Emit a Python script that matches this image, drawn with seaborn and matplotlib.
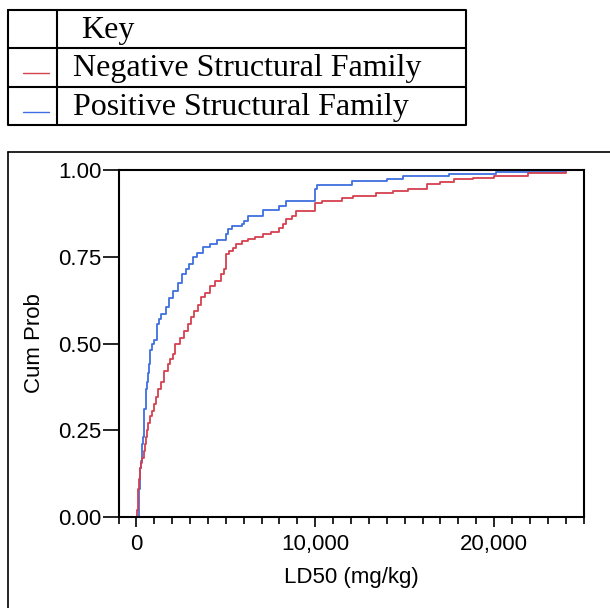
import numpy as np
import pandas as pd
import matplotlib
matplotlib.use("Agg")
import matplotlib.pyplot as plt
import seaborn as sns
from matplotlib.ticker import MultipleLocator, FixedLocator, FuncFormatter
from matplotlib.lines import Line2D

# ---------------- data ----------------
families = ["Negative Structural Family", "Positive Structural Family"]

# LD50 values (mg/kg) and cumulative probability reached at each value
neg_ld50 = [40, 80, 110, 150, 210, 260, 330, 415, 480, 550,
            600, 660, 750, 890, 980, 1075, 1210, 1360, 1550, 1740,
            1900, 2020, 2150, 2450, 2680, 2870, 3050, 3245, 3450, 3620,
            3850, 4100, 4400, 4710, 4900, 5000, 5200, 5420, 5570, 5900,
            6220, 6650, 7080, 7500, 7950, 8200, 8380, 8700, 8900, 10000,
            10400, 11500, 12100, 13400, 14350, 15200, 16230, 17000, 17740, 18800,
            20000, 21880, 24000]
neg_cum = [0.02, 0.05, 0.08, 0.11, 0.14, 0.155, 0.17, 0.19, 0.21, 0.23,
           0.25, 0.27, 0.29, 0.306, 0.325, 0.345, 0.369, 0.39, 0.42, 0.44,
           0.455, 0.47, 0.50, 0.515, 0.536, 0.556, 0.575, 0.595, 0.61, 0.633,
           0.645, 0.665, 0.68, 0.70, 0.715, 0.758, 0.767, 0.776, 0.787, 0.795,
           0.80, 0.808, 0.815, 0.822, 0.834, 0.845, 0.858, 0.868, 0.882, 0.906,
           0.911, 0.918, 0.925, 0.935, 0.94, 0.945, 0.959, 0.966, 0.973, 0.978,
           0.983, 0.99, 1.0]

pos_ld50 = [130, 150, 170, 200, 230, 260, 300, 330, 360, 415,
            450, 510, 560, 600, 650, 700, 755, 890, 990, 1145,
            1260, 1400, 1640, 1850, 2070, 2300, 2550, 2770, 2950, 3150,
            3400, 3740, 4100, 4490, 5000, 5150, 5360, 5900, 6000, 6220,
            7080, 7950, 8380, 10000, 10100, 12050, 14000, 14900, 17500, 20100,
            24000]
pos_cum = [0.02, 0.05, 0.08, 0.11, 0.14, 0.16, 0.19, 0.21, 0.23, 0.27,
           0.31, 0.345, 0.37, 0.39, 0.415, 0.44, 0.48, 0.50, 0.51, 0.556,
           0.57, 0.585, 0.604, 0.63, 0.652, 0.675, 0.70, 0.715, 0.73, 0.748,
           0.76, 0.777, 0.788, 0.798, 0.815, 0.83, 0.839, 0.845, 0.853, 0.868,
           0.884, 0.897, 0.911, 0.946, 0.957, 0.967, 0.973, 0.984, 0.989, 0.993,
           1.0]

x_major = [0, 10000, 20000]
y_major = [0.0, 0.25, 0.50, 0.75, 1.00]
x_label = "LD50 (mg/kg)"
y_label = "Cum Prob"
legend_title = "Key"

colors = {"Negative Structural Family": "#D5404E",
          "Positive Structural Family": "#3F6FE0"}

# ---------------- figure ----------------
sns.set_theme(style="white")
plt.rcParams["font.family"] = ["Liberation Sans", "DejaVu Sans"]
for k in ["text.color", "axes.labelcolor", "xtick.color", "ytick.color", "axes.edgecolor"]:
    plt.rcParams[k] = "black"

W, H = 610, 608
fig = plt.figure(figsize=(W / 100, H / 100), dpi=100)
fig.patch.set_facecolor("white")


def fx(px):
    return px / W


def fy(py):
    return 1 - py / H


left, right, top, bottom = 118.5, 583.5, 170, 517
ax = fig.add_axes([fx(left), fy(bottom), fx(right - left), (bottom - top) / H])

frames = []
for fam, vals, cum in [(families[0], neg_ld50, neg_cum), (families[1], pos_ld50, pos_cum)]:
    w = np.diff(np.r_[0.0, np.asarray(cum)])
    frames.append(pd.DataFrame({"LD50": vals, "w": w, "Family": fam}))
df = pd.concat(frames, ignore_index=True)

sns.ecdfplot(data=df, x="LD50", weights="w", hue="Family", hue_order=families,
             palette=colors, legend=False, ax=ax, linewidth=1.3)

ax.set_xlim(-1000, 25000)
ax.set_ylim(0, 1)
ax.xaxis.set_major_locator(FixedLocator(x_major))
ax.xaxis.set_minor_locator(MultipleLocator(1000))
ax.yaxis.set_major_locator(FixedLocator(y_major))
ax.xaxis.set_major_formatter(FuncFormatter(lambda v, _: f"{int(round(v)):,}"))
ax.yaxis.set_major_formatter(FuncFormatter(lambda v, _: f"{v:.2f}"))

for s in ax.spines.values():
    s.set_visible(True)
    s.set_linewidth(1.5)
    s.set_color("black")

ax.tick_params(axis="x", which="major", direction="out", length=7.2, width=1.2,
               pad=5, labelsize=16, bottom=True)
ax.tick_params(axis="x", which="minor", direction="out", length=5, width=1.2, bottom=True)
ax.tick_params(axis="y", which="major", direction="out", length=11.5, width=1.2,
               pad=1, labelsize=16, left=True)
ax.set_xlabel(x_label, fontsize=16, labelpad=9)
ax.set_ylabel(y_label, fontsize=16, labelpad=9)

# outer frame around the plot region
fig.add_artist(Line2D([fx(7.5), fx(7.5)], [0, fy(152)], transform=fig.transFigure,
                      color="black", lw=1.2))
fig.add_artist(Line2D([fx(7.5), 1], [fy(152), fy(152)], transform=fig.transFigure,
                      color="black", lw=1.2))

# ---------------- key table ----------------
tl, tr, tt, tb = 8, 466, 10, 125
col_x = 57.3
row_y = [48.3, 87.3]
lw_t = 1.5


def fline(xs, ys, **kw):
    fig.add_artist(Line2D([fx(x) for x in xs], [fy(y) for y in ys],
                          transform=fig.transFigure, **kw))


fline([tl, tr, tr, tl, tl], [tt, tt, tb, tb, tt], color="black", lw=lw_t)
fline([col_x, col_x], [tt, tb], color="black", lw=lw_t)
for ry in row_y:
    fline([tl, tr], [ry, ry], color="black", lw=lw_t)

serif = ["Liberation Serif", "DejaVu Serif"]
fig.text(fx(81), fy(38), legend_title, fontsize=23, family=serif, va="baseline", ha="left")
text_base = [76, 115]
sample_y = [72.7, 111.7]
for fam, by, sy in zip(families, text_base, sample_y):
    fig.text(fx(72.7), fy(by), fam, fontsize=23, family=serif, va="baseline", ha="left")
    fline([23.3, 49.3], [sy, sy], color=colors[fam], lw=1.0)

fig.savefig("out.png", dpi=100, facecolor="white")
